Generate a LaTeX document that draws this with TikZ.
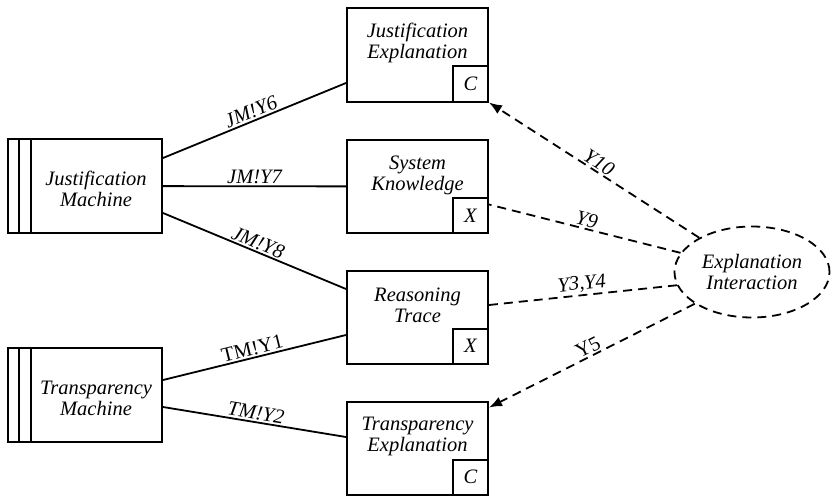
\documentclass[tikz,border=0pt]{standalone}
\usepackage{fontspec}
\setmainfont{Liberation Serif}
\usetikzlibrary{shapes.geometric, arrows.meta, positioning}

\begin{document}
\begin{tikzpicture}[
    x=1pt, y=-1pt,
    every node/.style={font=\fontsize{20.5}{21}\selectfont\itshape, align=center},
    upr/.style={font=\fontsize{20.5}{21}\selectfont\upshape},
    machine/.style={draw, rectangle, line width=2pt, minimum width=154pt, minimum height=94pt},
    dombox/.style={draw, rectangle, line width=2pt, minimum width=141pt, minimum height=93pt},
    domtag/.style={draw, rectangle, line width=2pt, minimum size=35pt, inner sep=0pt, anchor=south east},
    stripe/.style={line width=2pt},
    phen/.style={draw, line width=1.8pt},
    share/.style={draw, line width=1.8pt, dash pattern=on 9pt off 6pt},
    req/.style={share, -{Latex[length=13pt, width=10pt]}},
    lbl/.style={sloped, above, inner sep=1.5pt}
]
\useasboundingbox (0,0) rectangle (832,495);

% Machines
\node (jm) [machine] at (85,186) {};
\node (jm-t) at (96,189) {Justification\\Machine};
\draw [stripe] ([xshift=11.5]jm.north west) -- ([xshift=11.5]jm.south west);
\draw [stripe] ([xshift=24]jm.north west) -- ([xshift=24]jm.south west);

\node (tm) [machine] at (85,395) {};
\node (tm-t) at (96,398) {Transparency\\Machine};
\draw [stripe] ([xshift=11.5]tm.north west) -- ([xshift=11.5]tm.south west);
\draw [stripe] ([xshift=24]tm.north west) -- ([xshift=24]tm.south west);

% Domains
\node (je) [dombox] at (417.5,55) {};
\node (je-t) at (417.5,43) {Justification\\Explanation};
\node (je-c) [domtag] at (je.south east) {C};

\node (sk) [dombox] at (417.5,186.5) {};
\node (sk-t) at (417.5,175) {System\\Knowledge};
\node (sk-x) [domtag] at (sk.south east) {X};

\node (rt) [dombox] at (417.5,317) {};
\node (rt-t) at (417.5,305) {Reasoning\\Trace};
\node (rt-x) [domtag] at (rt.south east) {X};

\node (te) [dombox] at (417.5,448) {};
\node (te-t) at (417.5,436) {Transparency\\Explanation};
\node (te-c) [domtag] at (te.south east) {C};

% Requirement
\node (ei) [ellipse, share, minimum width=155pt, minimum height=91pt, inner sep=0pt] at (752,272) {Explanation\\Interaction};

% Interfaces
\draw [phen] ([yshift=28]jm.east) -- node[lbl] {JM!Y6} ([yshift=-28]je.west);
\draw [phen] (jm) -- node[lbl] {JM!Y7} (sk);
\draw [phen] ([yshift=-27]jm.east) -- node[lbl] {JM!Y8} ([yshift=28]rt.west);
\draw [phen] ([yshift=15]tm.east) -- node[lbl, upr] {TM!Y1} ([yshift=-18]rt.west);
\draw [phen] ([yshift=-12]tm.east) -- node[lbl] {TM!Y2} ([yshift=11]te.west);

% References
\draw [req] (ei.147) -- node[lbl] {Y10} (je.south east);
\draw [share] (ei.165) -- node[lbl] {Y9} ([yshift=-18]sk.east);
\draw [share] (ei.190) -- node[lbl] {Y3,Y4} ([yshift=12]rt.east);
\draw [req] (ei.209) -- node[lbl, upr] {Y5} ([yshift=-7]te.north east);

\end{tikzpicture}
\end{document}
